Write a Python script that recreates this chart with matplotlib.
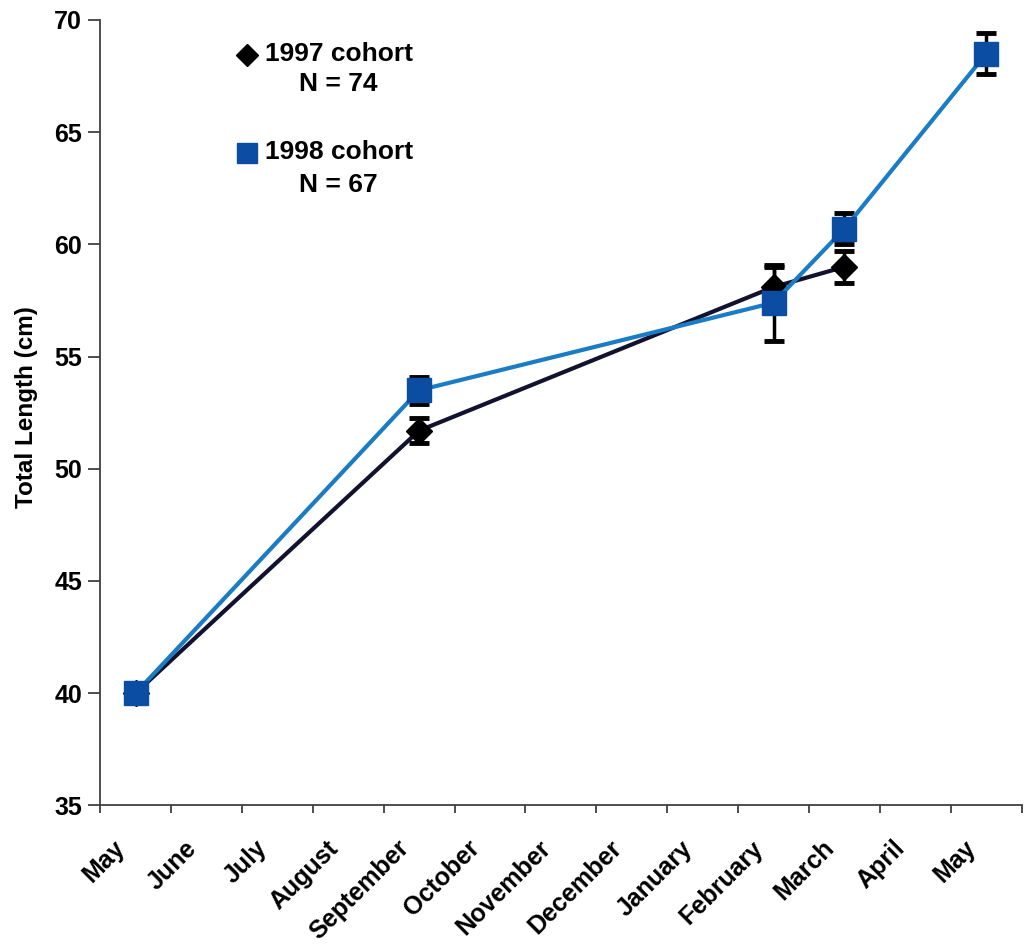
import matplotlib.pyplot as plt
import matplotlib.transforms as mtransforms

plt.rcParams['font.family'] = ['Liberation Sans', 'DejaVu Sans']
plt.rcParams['font.weight'] = 'bold'

# Month categories on the x axis
months = ['May', 'June', 'July', 'August', 'September', 'October', 'November',
          'December', 'January', 'February', 'March', 'April', 'May']

# 1997 cohort (black diamonds)
x_97 = [0, 4, 9, 10]
len_97 = [40.0, 51.7, 58.1, 59.0]
err_97 = [0.0, 0.55, 0.9, 0.7]

# 1998 cohort (blue squares)
x_98 = [0, 4, 9, 10, 12]
len_98 = [40.0, 53.5, 57.4, 60.7, 68.5]
err_98 = [0.0, 0.6, 1.7, 0.7, 0.9]

dark = '#12122e'
line_blue = '#1a7cc4'
mark_blue = '#0b4da2'

fig = plt.figure(figsize=(10.32, 9.52), dpi=100)
ax = fig.add_axes([0.097, 0.154, 0.893, 0.825])

# 1997 cohort
ax.errorbar(x_97, len_97, yerr=err_97, fmt='none', ecolor='black',
            elinewidth=2.5, capsize=7, capthick=3.5, zorder=2)
ax.plot(x_97, len_97, color=dark, lw=3, marker='D', markersize=13,
        markerfacecolor='black', markeredgecolor='black', zorder=3)

# 1998 cohort
ax.errorbar(x_98, len_98, yerr=err_98, fmt='none', ecolor='black',
            elinewidth=2.5, capsize=7, capthick=3.5, zorder=4)
ax.plot(x_98, len_98, color=line_blue, lw=3, marker='s', markersize=17.5,
        markerfacecolor=mark_blue, markeredgecolor=mark_blue, zorder=5)

ax.set_xlim(-0.5, 12.5)
ax.set_ylim(35, 70)
ax.set_yticks(range(35, 71, 5))
ax.tick_params(axis='y', labelsize=18, length=9, width=1.3, color='#404040', pad=4)

# month labels: drawn as rotated text, shifted a bit left like the original
ax.set_xticks(range(len(months)))
ax.set_xticklabels([])
ax.tick_params(axis='x', which='major', length=0)
shift = mtransforms.ScaledTranslation(-14 / 100, -39 / 100, fig.dpi_scale_trans)
for i, m in enumerate(months):
    ax.text(i, 0, m, transform=ax.get_xaxis_transform() + shift, rotation=45,
            ha='right', va='center', rotation_mode='anchor', fontsize=18)
ax.set_xticks([i - 0.5 for i in range(len(months) + 1)], minor=True)
ax.tick_params(axis='x', which='minor', length=6, width=1.3, color='#404040')

ax.set_ylabel('Total Length (cm)', fontsize=17.5, fontweight='bold')
ax.yaxis.set_label_coords(-0.067, 0.507)

for side in ['top', 'right']:
    ax.spines[side].set_visible(False)
for side in ['left', 'bottom']:
    ax.spines[side].set_color('#404040')
    ax.spines[side].set_linewidth(1.3)

# hand-made legend
ax.plot([0.1594], [0.955], transform=ax.transAxes, ls='none', marker='D',
        markersize=11, color='black', clip_on=False)
ax.plot([0.1594], [0.8306], transform=ax.transAxes, ls='none', marker='s',
        markersize=14.5, color=mark_blue, clip_on=False)
ax.text(0.1789, 0.957, '1997 cohort', transform=ax.transAxes, fontsize=19,
        ha='left', va='center')
ax.text(0.258, 0.918, 'N = 74', transform=ax.transAxes, fontsize=19,
        ha='center', va='center')
ax.text(0.1789, 0.832, '1998 cohort', transform=ax.transAxes, fontsize=19,
        ha='left', va='center')
ax.text(0.258, 0.790, 'N = 67', transform=ax.transAxes, fontsize=19,
        ha='center', va='center')

fig.savefig('out.png', dpi=100)
